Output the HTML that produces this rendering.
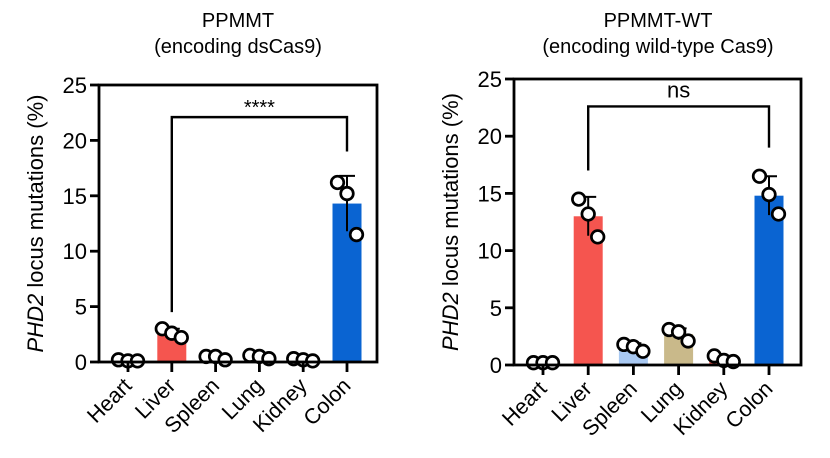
<!DOCTYPE html>
<html><head><meta charset="utf-8"><style>
html,body{margin:0;padding:0;background:#fff;}
svg{display:block;font-family:"Liberation Sans",Arial,sans-serif;}
</style></head><body>
<svg id="chart" width="830" height="458" viewBox="0 0 830 458" xmlns="http://www.w3.org/2000/svg"></svg>
<script>
const categories = ["Heart","Liver","Spleen","Lung","Kidney","Colon"];
const leftMeans = [0.2, 2.6, 0.5, 0.5, 0.2, 14.3];
const leftSD = [0.1, 0.4, 0.2, 0.2, 0.1, 2.5];
const leftPoints = [[0.2,0.1,0.1],[3.0,2.6,2.2],[0.5,0.5,0.2],[0.6,0.5,0.3],[0.3,0.2,0.1],[16.2,15.2,11.5]];
const rightMeans = [0.2, 13.0, 1.6, 2.7, 0.5, 14.8];
const rightSD = [0.05, 1.7, 0.3, 0.5, 0.3, 1.7];
const rightPoints = [[0.2,0.2,0.2],[14.5,13.2,11.2],[1.8,1.6,1.2],[3.1,2.9,2.1],[0.8,0.4,0.3],[16.5,14.9,13.2]];
const yTicks = [0,5,10,15,20,25];
const leftColors = ["#f5554f","#f5554f","#f5554f","#f5554f","#f5554f","#0a64d2"];
const rightColors = ["#f5554f","#f5554f","#a9c9f2","#c9b98a","#f5554f","#0a64d2"];

const svg = document.getElementById('chart');
const NS = "http://www.w3.org/2000/svg";
function mk(tag, attrs, parent){const e=document.createElementNS(NS,tag);for(const k in attrs)e.setAttribute(k,attrs[k]);(parent||svg).appendChild(e);return e;}

function panel(o){
  const g = mk('g',{});
  
  
  const y = v => o.y0 - (v/25)*(o.y0-o.y25);
  const x = i => o.x1 + i*o.step;
  const t1 = mk('text',{x:o.cx,y:27,'text-anchor':'middle','font-size':20},g); t1.textContent=o.title1;
   
  const t2 = mk('text',{x:o.cx,y:53,'text-anchor':'middle','font-size':20},g); t2.textContent=o.title2;
   
  o.means.forEach((m,i)=>{
    const b = mk('rect',{x:x(i)-14.5,y:y(m),width:29,height:y(0)-y(m),fill:o.colors[i]},g);
    
    
  });
  o.means.forEach((m,i)=>{
    const hi=m+o.sd[i], lo=Math.max(0,m-o.sd[i]);
    const e = mk('path',{d:`M${x(i)} ${y(lo)}V${y(hi)}M${x(i)-8} ${y(hi)}H${x(i)+8}`,stroke:'#000','stroke-width':2,fill:'none'},g);
     
  });
  o.points.forEach((ps,i)=>{
    ps.forEach((p,j)=>{
      const c = mk('circle',{cx:x(i)+(j-1)*9.5,cy:y(p),r:6.3,fill:'#fff',stroke:'#000','stroke-width':2.7},g);
       
    });
  });
  const fr = mk('rect',{x:o.ax,y:o.y25,width:o.ar-o.ax,height:o.y0-o.y25,fill:'none',stroke:'#000','stroke-width':2.8},g);
   
  yTicks.forEach(t=>{
    mk('line',{x1:o.ax-9,x2:o.ax,y1:y(t),y2:y(t),stroke:'#000','stroke-width':2.8},g);
    const l = mk('text',{x:o.ax-12,y:y(t)+8,'text-anchor':'end','font-size':22},g); l.textContent=t;
     
  });
  categories.forEach((c,i)=>{
    mk('line',{x1:x(i),x2:x(i),y1:o.y0,y2:o.y0+10,stroke:'#000','stroke-width':2.8},g);
    const l = mk('text',{x:x(i)+5,y:o.y0+25,'text-anchor':'end','font-size':21.5,transform:`rotate(-45 ${x(i)+5} ${o.y0+25})`},g);
    l.textContent=c;
     
  });
  const yt = mk('text',{x:0,y:0,'text-anchor':'middle','font-size':22,transform:`translate(${o.ax-56} ${(o.y0+o.y25)/2}) rotate(-90)`},g);
  yt.innerHTML = '<tspan font-style="italic">PHD2</tspan> locus mutations (%)';
   
  const br = mk('path',{d:`M${x(1)} ${y(o.bL)}V${y(o.bY)}H${x(5)}V${y(o.bR)}`,stroke:'#000','stroke-width':2.4,fill:'none'},g);
   
  const s = mk('text',{x:(x(1)+x(5))/2,y:y(o.bY)-o.sOff,'text-anchor':'middle','font-size':o.sSize},g); s.textContent=o.sig;
   
}

panel({name:'left-panel',title1:'PPMMT',title2:'(encoding dsCas9)',cx:238,ax:99,ar:377,y0:362,y25:85,x1:128,step:43.8,
  means:leftMeans,sd:leftSD,points:leftPoints,colors:leftColors,bL:4.5,bY:22.1,bR:19,sig:'****',sOff:3,sSize:20});
panel({name:'right-panel',title1:'PPMMT-WT',title2:'(encoding wild-type Cas9)',cx:658,ax:514,ar:801,y0:365,y25:79,x1:543,step:45.2,
  means:rightMeans,sd:rightSD,points:rightPoints,colors:rightColors,bL:17,bY:22.6,bR:19,sig:'ns',sOff:9,sSize:22});
</script>
</body></html>
